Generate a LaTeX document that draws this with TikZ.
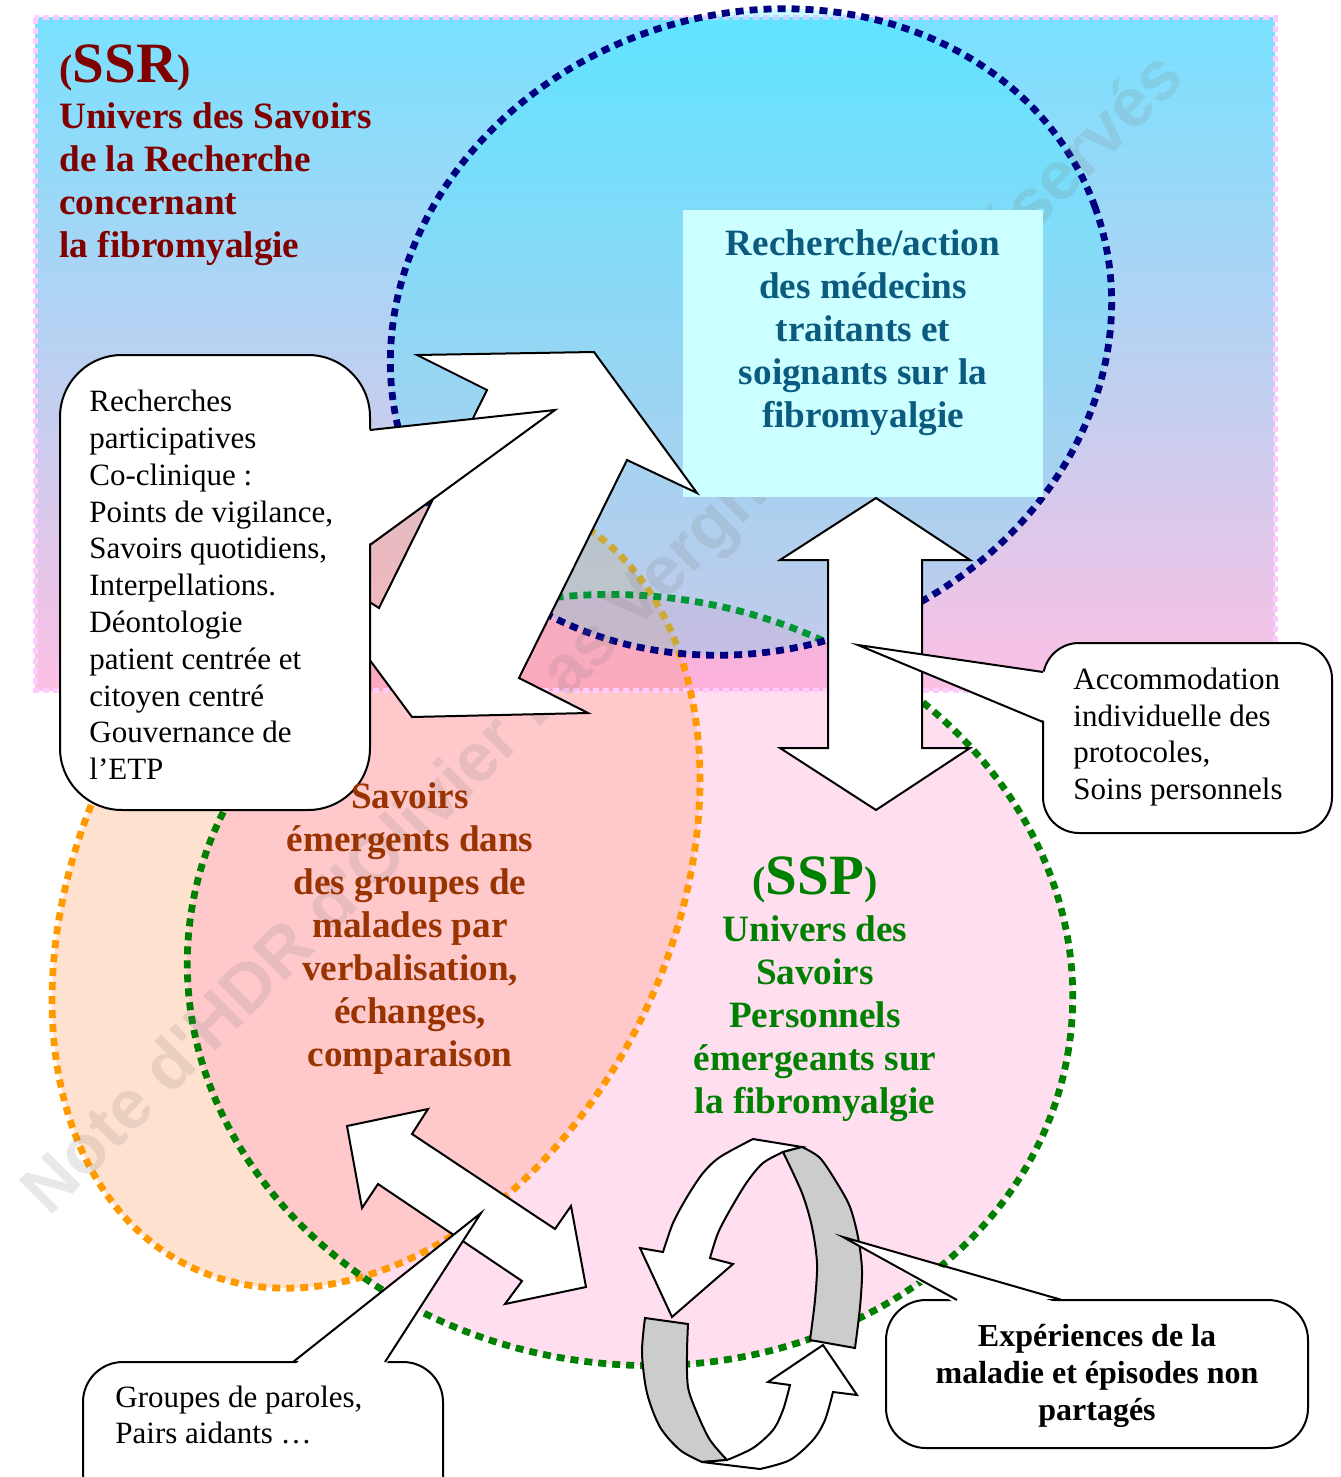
\documentclass[tikz,border=0pt]{standalone}
\usepackage{fontspec}
\setmainfont{Liberation Serif}
\newfontfamily\wmfont{Liberation Sans}
\definecolor{ssrred}{RGB}{128,0,0}
\definecolor{tealt}{RGB}{11,90,128}
\definecolor{brownt}{RGB}{153,51,0}
\definecolor{greent}{RGB}{0,128,0}
\definecolor{navyd}{RGB}{0,0,128}
\definecolor{orangd}{RGB}{255,153,0}
\definecolor{greend}{RGB}{0,128,0}
\definecolor{pinkb}{RGB}{255,204,255}
\definecolor{bgtop}{RGB}{120,225,255}
\definecolor{bgbot}{RGB}{252,192,228}
\definecolor{orfill}{RGB}{255,158,98}
\definecolor{grfill}{RGB}{255,139,196}
\definecolor{blfill}{RGB}{0,240,255}
\definecolor{boxcyan}{RGB}{204,255,255}
\definecolor{ringgray}{RGB}{204,204,204}
\tikzset{
  dotline/.style={line width=3.4pt, dash pattern=on 4pt off 3pt},
  shapeline/.style={draw=black, fill=white, line width=1pt, line join=miter},
  tailline/.style={draw=black, line width=1pt, line join=miter},
  grayband/.style={draw=black, fill=ringgray, line width=1pt, line join=miter},
  boldbig/.style={inner sep=0, align=center, font=\fontsize{18.6}{21.5}\selectfont\bfseries},
  plaintext/.style={inner sep=0, align=left, font=\fontsize{15.5}{18.4}\selectfont},
}
\begin{document}
\begin{tikzpicture}[x=0.5pt,y=-0.5pt]
\path[use as bounding box, clip] (0,0) rectangle (1340,1477);
\fill[white] (0,0) rectangle (1340,1477);
% background universe of research
\path[top color=bgtop, bottom color=bgbot] (35,18) rectangle (1275,690);
% translucent fills
\fill[orfill, fill opacity=0.3, rotate around={63.4:(376,890)}] (376,890) ellipse [x radius=420, y radius=295];
\fill[grfill, fill opacity=0.27, rotate around={-8.8:(630,980)}] (630,980) ellipse [x radius=444, y radius=384];
\draw[pinkb, line width=2.5pt, dash pattern=on 3pt off 2pt] (35,18) rectangle (1275,690);
\draw[dotline, orangd, rotate around={63.4:(376,890)}] (376,890) ellipse [x radius=420, y radius=295];
\draw[dotline, greend, rotate around={-8.8:(630,980)}] (630,980) ellipse [x radius=444, y radius=384];
\fill[blfill, fill opacity=0.2, rotate around={20.1:(751,332)}] (751,332) ellipse [x radius=366, y radius=317];
\draw[dotline, navyd, rotate around={20.1:(751,332)}] (751,332) ellipse [x radius=366, y radius=317];
% watermark
\node[rotate=45, anchor=base west, inner sep=0, text=gray, text opacity=0.18,
      font=\wmfont\bfseries\fontsize{34.4}{38}\selectfont] (wm) at (49,1218)
      {Note d'HDR d'Olivier Las Vergnas droits réservés};
% research/action box
\node[fill=boxcyan, minimum width=180pt, minimum height=143.5pt, inner sep=0, anchor=north west] (rbox) at (683,210) {};
\node[boldbig, text=tealt] (rtext) at (863,333) {Recherche/action\\des médecins\\traitants et\\soignants sur la\\fibromyalgie};
% big bent double arrow
\draw[shapeline] (417,355) -- (594,352) -- (697,493) -- (627,460) -- (519,678) -- (588,713)
  -- (412,717) -- (289,551) -- (379,608) -- (487,390) -- cycle;
% callout 1
\draw[shapeline, rounded corners=31pt] (60,355) rectangle (370,810);
\fill[white] (366,430) -- (555,410) -- (366,546) -- cycle;
\draw[tailline] (370,430) -- (555,410) -- (370,545);
\node[plaintext, anchor=west] (t1) at (89,585) {Recherches\\participatives\\Co-clinique :\\Points de vigilance,\\Savoirs quotidiens,\\Interpellations.\\Déontologie\\patient centrée et\\citoyen centré\\Gouvernance de\\l’ETP};
% vertical double arrow
\draw[shapeline] (876,498) -- (970,560) -- (922,560) -- (922,748) -- (970,748) -- (876,810)
  -- (780,748) -- (828,748) -- (828,560) -- (780,560) -- cycle;
% callout 2
\draw[shapeline, rounded corners=18pt] (1043,643) rectangle (1332,833);
\fill[white] (1047,672) -- (858,645) -- (1047,722) -- cycle;
\draw[tailline] (1043,672) -- (858,645) -- (1043,722);
\node[plaintext, anchor=west] (t2) at (1073,737) {Accommodation\\individuelle des\\protocoles,\\Soins personnels};
% diagonal double arrow
\draw[shapeline] (347,1126) -- (428,1109) -- (412,1134) -- (555,1229) -- (571,1206) -- (586,1287)
  -- (505,1304) -- (522,1281) -- (378,1184) -- (362,1208) -- cycle;
% callout 3
\draw[shapeline, rounded corners=20pt] (83,1362) rectangle (443,1540);
\fill[white] (293,1366) -- (481,1213) -- (385,1366) -- cycle;
\draw[tailline] (293,1362) -- (481,1213) -- (385,1362);
\node[plaintext, anchor=west] (t3) at (115,1415) {Groupes de paroles,\\Pairs aidants …};
% circular 3D arrows
\draw[shapeline] (753,1139) -- (802,1147) -- (783,1152)
  -- plot[smooth] coordinates {(783,1152) (763,1163) (747,1182) (730,1210) (718,1233) (710,1258)}
  -- (733,1264) -- (672,1317) -- (640,1248) -- (663,1252)
  -- plot[smooth] coordinates {(663,1252) (673,1223) (687,1197) (703,1173) (720,1157) (753,1139)} -- cycle;
\draw[grayband] (802,1147)
  -- plot[smooth] coordinates {(802,1147) (820,1158) (837,1183) (850,1207) (858,1237) (862,1270) (860,1307) (855,1348)}
  -- (810,1340)
  -- plot[smooth] coordinates {(810,1340) (815,1300) (817,1263) (812,1227) (802,1193) (783,1152)} -- cycle;
\draw[grayband] (645,1318) -- (688,1324)
  -- plot[smooth] coordinates {(688,1324) (687,1353) (688,1387) (697,1413) (710,1440) (727,1460)}
  -- (702,1462)
  -- plot[smooth] coordinates {(702,1462) (680,1450) (660,1427) (647,1393) (642,1353) (645,1318)} -- cycle;
\draw[shapeline] (702,1462) -- (760,1469)
  -- plot[smooth] coordinates {(760,1469) (790,1460) (813,1440) (825,1420) (833,1392)}
  -- (857,1395) -- (823,1345) -- (768,1382) -- (790,1385)
  -- plot[smooth] coordinates {(790,1385) (783,1410) (773,1430) (753,1448) (727,1460)} -- cycle;
% callout 4
\draw[shapeline, rounded corners=20pt] (886,1300) rectangle (1308,1448);
\fill[white] (957,1304) -- (843,1237) -- (1062,1304) -- cycle;
\draw[tailline] (957,1300) -- (843,1237) -- (1062,1300);
\node[inner sep=0, align=center, font=\fontsize{16}{18.5}\selectfont\bfseries] (t4) at (1097,1376) {Expériences de la\\maladie et épisodes non\\partagés};
% titles
\node[anchor=base west, inner sep=0, text=ssrred, font=\bfseries] (ssr) at (59,83)
  {{\fontsize{20}{24}\selectfont(}{\fontsize{28.5}{32}\selectfont SSR}{\fontsize{20}{24}\selectfont)}};
\node[boldbig, align=left, anchor=west, text=ssrred] (ssrtext) at (59,184) {Univers des Savoirs\\de la Recherche\\concernant\\la fibromyalgie};
\node[anchor=base, inner sep=0, text=greent, font=\bfseries] (ssp) at (815,894)
  {{\fontsize{20}{24}\selectfont(}{\fontsize{28.5}{32}\selectfont SSP}{\fontsize{20}{24}\selectfont)}};
\node[boldbig, text=greent] (ssptext) at (815,1019) {Univers des\\Savoirs\\Personnels\\émergeants sur\\la fibromyalgie};
\node[boldbig, text=brownt] (sgtext) at (410,929) {Savoirs\\émergents dans\\des groupes de\\malades par\\verbalisation,\\échanges,\\comparaison};
\end{tikzpicture}
\end{document}
